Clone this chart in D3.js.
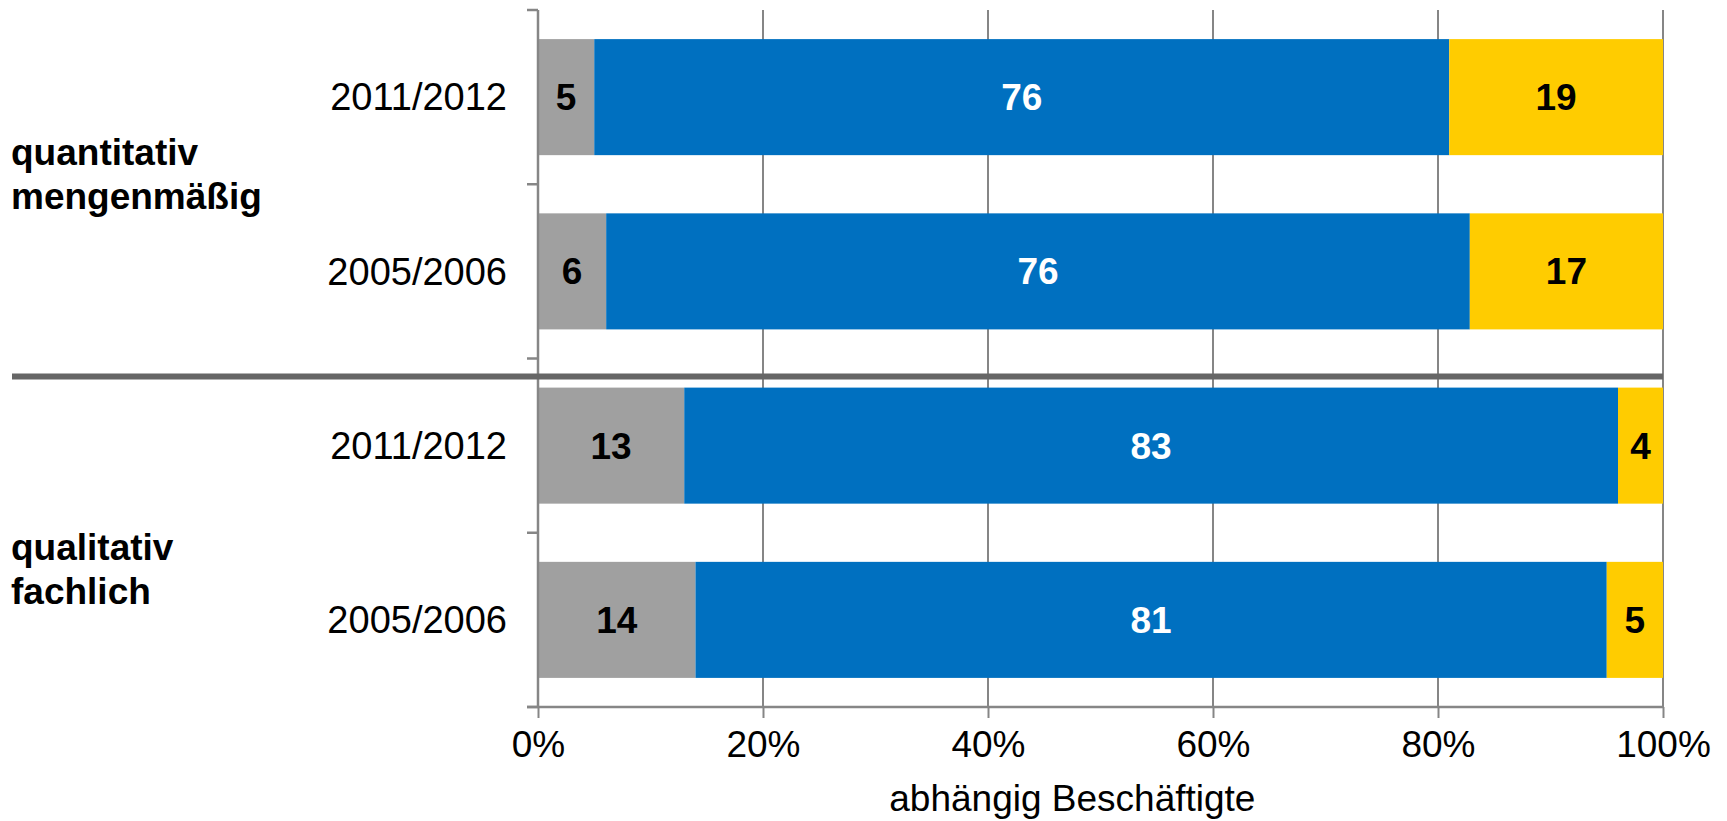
<!DOCTYPE html>
<html>
<head>
<meta charset="utf-8">
<script src="https://cdn.jsdelivr.net/npm/d3@7"></script>
<style>
  body { margin: 0; background: #fff; }
  svg { display: block; font-family: Arial, "Liberation Sans", sans-serif; }
</style>
</head>
<body>
<div id="chart"></div>
<script>
// categories, top to bottom
const rows = ["q2011", "q2005", "f2011", "f2005"];
const rowLabels = ["2011/2012", "2005/2006", "2011/2012", "2005/2006"];
const groups = [
  { lines: ["quantitativ", "mengenmäßig"], after: 0 },
  { lines: ["qualitativ", "fachlich"], after: 2 }
];
// series values (share in %)
const grayValues = [5, 6, 13, 14];
const blueValues = [76, 76, 83, 81];
const yellowValues = [19, 17, 4, 5];
const xTicks = [0, 0.2, 0.4, 0.6, 0.8, 1];
const axisTitle = "abhängig Beschäftigte";

const width = 1727, height = 821;
const margin = { top: 10, right: 64, bottom: 114, left: 538 };

const data = rows.map((r, i) => ({
  row: r,
  gray: grayValues[i],
  blue: blueValues[i],
  yellow: yellowValues[i]
}));
const keys = ["gray", "blue", "yellow"];
const colors = { gray: "#a0a0a0", blue: "#0070c0", yellow: "#ffcc00" };
const textColors = { gray: "#000", blue: "#fff", yellow: "#000" };

// 100 % stacked, like the original
const series = d3.stack().keys(keys).offset(d3.stackOffsetExpand)(data);

const svg = d3.select("#chart").append("svg")
  .attr("width", width)
  .attr("height", height);

const x = d3.scaleLinear()
  .domain([0, 1])
  .range([margin.left, width - margin.right]);

const y = d3.scaleBand()
  .domain(rows)
  .range([margin.top, height - margin.bottom])
  .paddingInner(0.334)
  .paddingOuter(0.167);

// vertical gridlines
svg.append("g")
  .selectAll("line")
  .data(xTicks.slice(1))
  .join("line")
  .attr("x1", (d) => x(d))
  .attr("x2", (d) => x(d))
  .attr("y1", margin.top)
  .attr("y2", height - margin.bottom)
  .attr("stroke", "#868686")
  .attr("stroke-width", 2);

// bars
svg.append("g")
  .selectAll("g")
  .data(series)
  .join("g")
  .attr("fill", (s) => colors[s.key])
  .selectAll("rect")
  .data((s) => s)
  .join("rect")
  .attr("x", (d) => x(d[0]))
  .attr("y", (d) => y(d.data.row))
  .attr("width", (d) => x(d[1]) - x(d[0]))
  .attr("height", y.bandwidth());

// value labels
svg.append("g")
  .selectAll("g")
  .data(series)
  .join("g")
  .attr("fill", (s) => textColors[s.key])
  .selectAll("text")
  .data((s) => s.map((d) => ({ d, key: s.key })))
  .join("text")
  .attr("x", (o) => (x(o.d[0]) + x(o.d[1])) / 2)
  .attr("y", (o) => y(o.d.data.row) + y.bandwidth() / 2)
  .attr("dy", "0.35em")
  .attr("text-anchor", "middle")
  .attr("font-size", 37)
  .attr("font-weight", "bold")
  .text((o) => o.d.data[o.key]);

// left axis line + outward ticks at band edges
const yAxis = svg.append("g").attr("stroke", "#868686").attr("stroke-width", 2.5);
yAxis.append("line")
  .attr("x1", x(0)).attr("x2", x(0))
  .attr("y1", margin.top).attr("y2", height - margin.bottom);
const bandEdges = rows.map((r) => y(r) - (y.step() - y.bandwidth()) / 2)
  .concat([height - margin.bottom]);
yAxis.selectAll(".tk")
  .data(bandEdges)
  .join("line")
  .attr("x1", x(0) - 11).attr("x2", x(0))
  .attr("y1", (d) => d).attr("y2", (d) => d);

// category labels
svg.append("g")
  .selectAll("text")
  .data(rows)
  .join("text")
  .attr("x", x(0) - 31)
  .attr("y", (r) => y(r) + y.bandwidth() / 2)
  .attr("dy", "0.35em")
  .attr("text-anchor", "end")
  .attr("font-size", 38)
  .text((r, i) => rowLabels[i]);

// bottom axis
const xAxis = svg.append("g")
  .attr("transform", `translate(0,${height - margin.bottom})`)
  .call(d3.axisBottom(x).tickValues(xTicks).tickFormat(d3.format(".0%")).tickSize(11).tickSizeOuter(0));
xAxis.select(".domain")
  .attr("d", `M${x(0) - 11},0H${x(1)}`)
  .attr("stroke", "#868686")
  .attr("stroke-width", 2.5);
xAxis.selectAll(".tick line").attr("stroke", "#868686").attr("stroke-width", 2);
xAxis.selectAll(".tick text")
  .attr("font-size", 37)
  .attr("font-family", "Arial, 'Liberation Sans', sans-serif")
  .attr("fill", "#000")
  .attr("y", 24)
  .attr("dy", "0.71em");

svg.append("text")
  .attr("x", x(0.475))
  .attr("y", height - 10)
  .attr("text-anchor", "middle")
  .attr("font-size", 37)
  .text(axisTitle);

// group separator between the two blocks
const sepY = y(rows[2]) - 11;
svg.append("line")
  .attr("x1", 12).attr("x2", x(1))
  .attr("y1", sepY).attr("y2", sepY)
  .attr("stroke", "#666")
  .attr("stroke-width", 6);

// group labels (bold, two lines)
const groupOffsets = [-19, 27];
svg.append("g")
  .selectAll("text")
  .data(groups)
  .join("text")
  .attr("x", 11)
  .attr("y", (g, i) => bandEdges[g.after + 1] + groupOffsets[i])
  .attr("font-size", 37)
  .attr("font-weight", "bold")
  .selectAll("tspan")
  .data((g) => g.lines)
  .join("tspan")
  .attr("x", 11)
  .attr("dy", (l, i) => (i === 0 ? 0 : 44))
  .text((l) => l);
</script>
</body>
</html>
